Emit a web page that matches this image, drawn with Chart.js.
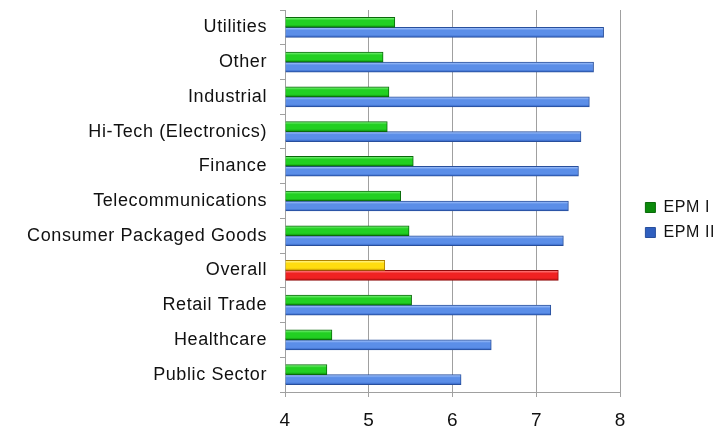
<!DOCTYPE html>
<html>
<head>
<meta charset="utf-8">
<script src="https://cdn.jsdelivr.net/npm/chart.js@4.4.1/dist/chart.umd.min.js"></script>
<style>
  html, body { margin: 0; padding: 0; background: #fff; }
  #wrap { width: 720px; height: 430px; }
</style>
</head>
<body>
<div id="wrap"><canvas id="chart"></canvas></div>
<script>
const categories = [
  "Utilities", "Other", "Industrial", "Hi-Tech (Electronics)", "Finance",
  "Telecommunications", "Consumer Packaged Goods", "Overall", "Retail Trade",
  "Healthcare", "Public Sector"
];
const epm1 = [5.31, 5.17, 5.24, 5.22, 5.53, 5.38, 5.48, 5.19, 5.51, 4.56, 4.50];
const epm2 = [7.80, 7.68, 7.63, 7.53, 7.50, 7.38, 7.32, 7.26, 7.17, 6.46, 6.10];
const xTicks = [4, 5, 6, 7, 8];
const highlight = "Overall";

const BAR = 10;
const green = { light: "#8cf78c", mid: "#22d022", dark: "#0b8a0b", edge: "#0a6a0a" };
const blue = { light: "#b2ceff", mid: "#5b8ee8", dark: "#2f5fbf", edge: "#284f9c" };
const yellow = { light: "#fff6a0", mid: "#ffdc10", dark: "#d7a200", edge: "#b08400" };
const red = { light: "#ff8c8c", mid: "#f02222", dark: "#b20f0f", edge: "#900b0b" };

// normal palette per dataset, swapped for the highlighted row
function palette(dsIndex, dataIndex) {
  const hot = dataIndex !== undefined && categories[dataIndex] === highlight;
  if (dsIndex === 0) return hot ? yellow : green;
  return hot ? red : blue;
}

function barFill(dsIndex) {
  return (c) => {
    const p = palette(dsIndex, c.dataIndex);
    if (c.type !== "data") return p.mid;
    const center = c.chart.scales.y.getPixelForValue(c.dataIndex);
    if (!Number.isFinite(center)) return p.mid;
    const top = dsIndex === 0 ? center - BAR : center;
    const g = c.chart.ctx.createLinearGradient(0, top, 0, top + BAR);
    g.addColorStop(0, p.light);
    g.addColorStop(0.3, p.mid);
    g.addColorStop(0.75, p.mid);
    g.addColorStop(1, p.dark);
    return g;
  };
}

function barEdge(dsIndex) {
  return (c) => palette(dsIndex, c.type === "data" ? c.dataIndex : undefined).edge;
}

// the reference text is drawn a little wider than Arial
const spacing = {
  id: "spacing",
  beforeUpdate(chart) { chart.ctx.letterSpacing = "0.6px"; },
  beforeDraw(chart) { chart.ctx.letterSpacing = "0.6px"; }
};

// move legend to the right without widening the plot
const legendNudge = {
  id: "legendNudge",
  afterLayout(chart) {
    chart.legend.left += 16;
    chart.legend.right += 16;
  }
};

Chart.defaults.font.family = "'Liberation Sans', Arial, sans-serif";
Chart.defaults.color = "#111";

new Chart(document.getElementById("chart"), {
  type: "bar",
  data: {
    labels: categories,
    datasets: [
      {
        label: "EPM I",
        data: epm1,
        backgroundColor: barFill(0),
        borderColor: barEdge(0),
        borderWidth: 1,
        barThickness: BAR,
        base: 4
      },
      {
        label: "EPM II",
        data: epm2,
        backgroundColor: barFill(1),
        borderColor: barEdge(1),
        borderWidth: 1,
        barThickness: BAR,
        base: 4
      }
    ]
  },
  options: {
    indexAxis: "y",
    responsive: true,
    maintainAspectRatio: false,
    animation: false,
    layout: { padding: { top: 10, left: 14, right: 11, bottom: 0 } },
    scales: {
      x: {
        min: 4,
        max: 8,
        afterBuildTicks: (s) => { s.ticks = xTicks.map((v) => ({ value: v })); },
        grid: { color: "#a0a0a0", tickColor: "#a0a0a0", tickLength: 5 },
        border: { color: "#a0a0a0" },
        ticks: { font: { size: 19 }, padding: 12 },
        afterFit: (s) => { s.height = 38; }
      },
      y: {
        grid: { drawOnChartArea: false, color: "#a0a0a0", tickLength: 5 },
        border: { color: "#a0a0a0" },
        ticks: { font: { size: 18 }, padding: 13 },
        afterFit: (s) => {
          s.width = 271;
          s.paddingTop = 0;
          s.paddingBottom = 0;
        }
      }
    },
    plugins: {
      tooltip: { enabled: false },
      legend: {
        position: "right",
        labels: {
          boxWidth: 10,
          boxHeight: 10,
          padding: 9,
          font: { size: 16 },
          color: "#111"
        }
      }
    }
  },
  plugins: [spacing, legendNudge]
});
</script>
</body>
</html>
